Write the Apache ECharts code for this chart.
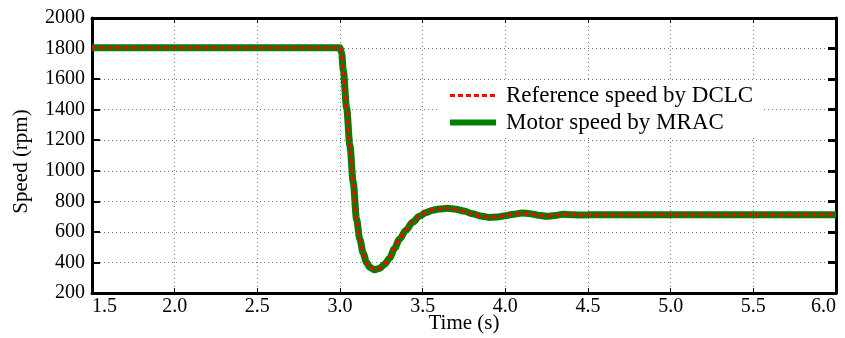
<!DOCTYPE html>
<html>
<head>
<meta charset="utf-8">
<title>Speed</title>
<script src="https://cdn.jsdelivr.net/npm/echarts@6/dist/echarts.min.js"></script>
<style>
  html, body { margin: 0; padding: 0; background: #fff; }
  #chart { width: 845px; height: 338px; }
</style>
</head>
<body>
<div id="chart"></div>
<script>
// values (time in s, speed in rpm)
var timeS = [1.5, 3.0, 3.01, 3.02, 3.04, 3.06, 3.08, 3.10, 3.12, 3.14, 3.16, 3.18, 3.21,
  3.24, 3.27, 3.30, 3.33, 3.36, 3.40, 3.44, 3.48, 3.52, 3.56, 3.60, 3.65, 3.70, 3.75, 3.80, 3.85,
  3.90, 3.95, 4.00, 4.05, 4.10, 4.15, 4.20, 4.25, 4.30, 4.35, 4.40, 4.45, 4.50, 5.0, 5.5, 6.0];
var refSpeed = [1805, 1805, 1771, 1650, 1407, 1160, 920, 680, 550, 460, 400, 368, 352,
  362, 390, 430, 495, 555, 615, 665, 703, 728, 743, 751, 754, 748, 735, 718, 703,
  695, 698, 707, 717, 724, 718, 708, 702, 708, 716, 713, 710, 712, 713, 713, 713];
var motorSpeed = [1805, 1805, 1773, 1655, 1412, 1165, 924, 684, 553, 462, 401, 368, 352,
  361, 388, 428, 492, 552, 613, 664, 702, 727, 742, 750, 754, 749, 736, 719, 704,
  695, 697, 706, 716, 724, 719, 709, 702, 707, 715, 713, 710, 712, 713, 713, 713];
var seriesNames = ['Reference speed by DCLC', 'Motor speed by MRAC'];

var font = 'Liberation Serif';

function pairs(vals) {
  return timeS.map(function (t, i) { return [t, vals[i]]; });
}

var myChart = echarts.init(document.getElementById('chart'));
var option = {
  animation: false,
  backgroundColor: '#fff',
  grid: { left: 92, right: 9, top: 18, bottom: 45, outerBoundsMode: 'none' },
  legend: {
    data: [
      { name: seriesNames[0], lineStyle: { width: 3, type: [5, 3] } },
      { name: seriesNames[1], lineStyle: { width: 6 } }
    ],
    orient: 'vertical',
    left: 440,
    top: 81,
    itemWidth: 46,
    itemHeight: 12,
    itemGap: 4,
    padding: [3, 8, 3, 7],
    backgroundColor: '#fff',
    itemStyle: { color: 'rgba(0,0,0,0)', borderWidth: 0 },
    textStyle: { fontFamily: font, fontSize: 23, color: '#000', padding: [0, 0, 0, 5] }
  },
  xAxis: [
    {
      type: 'value',
      min: 1.5, max: 6.0, interval: 0.5,
      name: 'Time (s)',
      nameLocation: 'middle',
      nameGap: 20,
      nameMoveOverlap: false,
      nameTextStyle: { fontFamily: font, fontSize: 21, color: '#000' },
      axisLine: { show: true, onZero: false, lineStyle: { color: '#000', width: 3 } },
      axisTick: { inside: true, length: 5, lineStyle: { color: '#000', width: 1 } },
      axisLabel: {
        fontFamily: font, fontSize: 20, color: '#000', margin: 4,
        alignMinLabel: 'left', alignMaxLabel: 'right',
        formatter: function (v) { return v.toFixed(1); }
      },
      splitLine: { show: true, lineStyle: { color: '#777', width: 1, type: [1, 3] } }
    },
    {
      type: 'value', position: 'top',
      min: 1.5, max: 6.0, interval: 0.5,
      axisLine: { show: true, onZero: false, lineStyle: { color: '#000', width: 3 } },
      axisTick: { inside: true, length: 5, lineStyle: { color: '#000', width: 1 } },
      axisLabel: { show: false },
      splitLine: { show: false }
    }
  ],
  yAxis: [
    {
      type: 'value',
      min: 200, max: 2000, interval: 200,
      name: 'Speed (rpm)',
      nameLocation: 'middle',
      nameGap: 60,
      nameMoveOverlap: false,
      nameTextStyle: { fontFamily: font, fontSize: 21, color: '#000', padding: [0, 12, 0, 0] },
      axisLine: { show: true, onZero: false, lineStyle: { color: '#000', width: 3 } },
      axisTick: { inside: true, length: 8, lineStyle: { color: '#000', width: 2 } },
      axisLabel: {
        fontFamily: font, fontSize: 20, color: '#000', margin: 7,
        formatter: function (v) { return String(v); }
      },
      splitLine: { show: true, lineStyle: { color: '#777', width: 1, type: [1, 3] } }
    },
    {
      type: 'value', position: 'right',
      min: 200, max: 2000, interval: 200,
      axisLine: { show: true, onZero: false, lineStyle: { color: '#000', width: 3 } },
      axisTick: { inside: true, length: 8, lineStyle: { color: '#000', width: 3 } },
      axisLabel: { show: false },
      splitLine: { show: false }
    }
  ],
  series: [
    {
      name: seriesNames[1],
      type: 'line',
      data: pairs(motorSpeed),
      symbol: 'none',
      smooth: 0.3,
      smoothMonotone: 'x',
      z: 2,
      itemStyle: { color: '#008000' },
      lineStyle: { color: '#008000', width: 7 }
    },
    {
      name: seriesNames[0],
      type: 'line',
      data: pairs(refSpeed),
      symbol: 'none',
      smooth: 0.3,
      smoothMonotone: 'x',
      z: 3,
      itemStyle: { color: '#ff0000' },
      lineStyle: { color: '#ff0000', width: 3, type: [5, 3] }
    }
  ]
};
myChart.setOption(option);
</script>
</body>
</html>
